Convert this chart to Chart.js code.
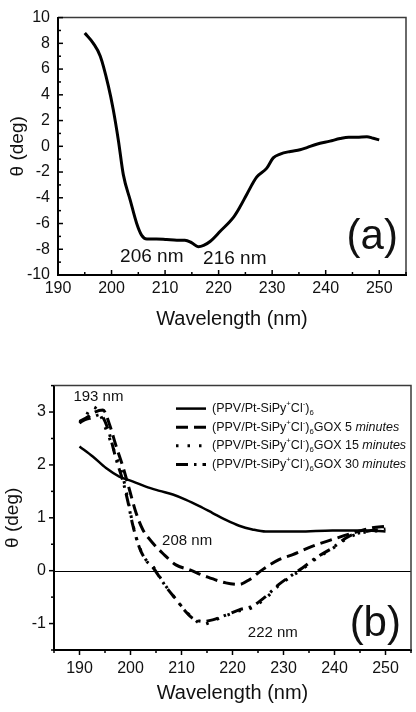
<!DOCTYPE html>
<html>
<head>
<meta charset="utf-8">
<script src="https://cdn.jsdelivr.net/npm/chart.js@4"></script>
<style>
  html, body { margin: 0; padding: 0; background: #fff; }
  #wrapA { position: absolute; left: 0; top: 0;     width: 416px; height: 340px; }
  #wrapB { position: absolute; left: 0; top: 368px; width: 416px; height: 344px; }
</style>
</head>
<body>
<div id="wrapA"><canvas id="chartA"></canvas></div>
<div id="wrapB"><canvas id="chartB"></canvas></div>
<script>
// ── Panel (a) data ──────────────────────────────────────
const wlA    = [195, 196.6, 197.9, 199.4, 200.3, 201.3, 202.2, 203.5, 204.7, 205.6, 206.6, 208.4, 210.3, 212.2, 213.7, 215, 216.2, 217.2, 218.4, 220.3, 222.8, 224, 225.3, 227.1, 229, 230.2, 231.5, 233.4, 235.2, 236.5, 238.3, 240.8, 242.7, 244.3, 245.8, 247.7, 248.9, 250];
const thetaA = [8.8, 8.0, 7.0, 4.7, 2.9, 0.4, -2.2, -4.2, -6.0, -6.9, -7.2, -7.2, -7.25, -7.3, -7.3, -7.5, -7.8, -7.7, -7.4, -6.6, -5.5, -4.7, -3.7, -2.4, -1.7, -0.9, -0.6, -0.4, -0.27, -0.1, 0.16, 0.4, 0.6, 0.7, 0.7, 0.75, 0.62, 0.5];
const xTicksA = [190, 200, 210, 220, 230, 240, 250];
const yTicksA = [-10, -8, -6, -4, -2, 0, 2, 4, 6, 8, 10];

// ── Panel (b) data ──────────────────────────────────────
const wlFilm    = [190, 192.6, 195.2, 197.8, 200.4, 203, 205.7, 208.3, 210.9, 213.5, 216.1, 218.7, 221.3, 223.9, 226.5, 229.1, 233, 239.6, 246.1, 250];
const thetaFilm = [2.35, 2.16, 1.94, 1.78, 1.69, 1.59, 1.51, 1.44, 1.34, 1.22, 1.09, 0.96, 0.85, 0.78, 0.74, 0.74, 0.74, 0.76, 0.76, 0.74];

const wl5    = [190, 191.5, 193, 194.6, 195.8, 197.2, 198.5, 199.8, 201.1, 202.4, 204.4, 206.3, 208.9, 211.5, 214.8, 218.7, 221.3, 223.3, 225.9, 229.1, 231.7, 235.6, 239.6, 243.5, 247.4, 250];
const theta5 = [2.82, 2.9, 3.0, 3.04, 2.79, 2.35, 1.97, 1.53, 1.09, 0.78, 0.52, 0.33, 0.11, 0.02, -0.11, -0.23, -0.26, -0.17, 0.02, 0.21, 0.30, 0.46, 0.59, 0.71, 0.81, 0.84];

const wl15    = [190, 191, 192.6, 193.9, 195.2, 197.2, 198.5, 199.5, 200.4, 201.7, 203, 204.4, 205.7, 207, 209, 210.6, 212.2, 214.2, 216.1, 218.7, 221.3, 223.9, 226.5, 229.1, 231.7, 233.7, 236.3, 239.6, 242.8, 246.1, 250];
const theta15 = [2.79, 2.89, 3.1, 2.98, 2.67, 2.16, 1.78, 1.34, 0.9, 0.46, 0.21, 0.08, -0.11, -0.30, -0.55, -0.74, -0.89, -1.02, -0.95, -0.85, -0.76, -0.7, -0.52, -0.28, -0.1, 0.03, 0.22, 0.42, 0.63, 0.73, 0.76];

const wl30    = [190, 191, 192.6, 194, 195.5, 197.2, 198.5, 199.5, 200.4, 201.7, 203, 204.4, 205.7, 207, 209, 210.6, 212.2, 214.2, 216.1, 218.7, 221.3, 223.9, 226.5, 229.1, 231.7, 233.7, 236.3, 239.6, 242.8, 246.1, 250];
const theta30 = [2.8, 2.85, 2.9, 2.95, 2.7, 2.1, 1.7, 1.3, 0.88, 0.45, 0.2, 0.06, -0.12, -0.31, -0.55, -0.75, -0.9, -0.96, -0.93, -0.84, -0.74, -0.67, -0.49, -0.26, -0.08, 0.05, 0.24, 0.43, 0.65, 0.74, 0.79];

const xTicksB = [190, 200, 210, 220, 230, 240, 250];
const yTicksB = [-1, 0, 1, 2, 3];
const timeLabels = ["", "5", "15", "30"];

const FONT = "'Liberation Sans', Arial, sans-serif";

function pts(xs, ys) {
  return xs.map((x, i) => ({ x: x, y: ys[i] }));
}

// ── Helper: text with super/subscripts and italics ──────
function drawRich(ctx, x, y, parts, size) {
  let cx = x;
  parts.forEach(([txt, kind]) => {
    let fs = size, dy = 0, style = "";
    if (kind === "s") { fs = size * 0.62; dy = -size * 0.38; }
    if (kind === "b") { fs = size * 0.62; dy = size * 0.35; }
    if (kind === "i") { style = "italic "; }
    ctx.font = style + fs + "px " + FONT;
    ctx.fillText(txt, cx, y + dy);
    cx += ctx.measureText(txt).width;
  });
}

function legendParts(t) {
  const parts = [["(PPV/Pt-SiPy", "n"], ["+", "s"], ["Cl", "n"], ["-", "s"], [")", "n"], ["6", "b"]];
  if (t) { parts.push(["GOX " + t + " ", "n"]); parts.push(["minutes", "i"]); }
  return parts;
}

// ── Plugin: frame, ticks, notes, legend ─────────────────
const framePlugin = {
  id: "frame",
  beforeDatasetsDraw(chart, args, opts) {
    if (!opts.zeroLine) return;
    const { ctx, chartArea: a, scales } = chart;
    const y0 = Math.round(scales.y.getPixelForValue(0)) + 0.5;
    ctx.save();
    ctx.strokeStyle = "#000";
    ctx.lineWidth = 1;
    ctx.beginPath();
    ctx.moveTo(a.left, y0);
    ctx.lineTo(a.right, y0);
    ctx.stroke();
    ctx.restore();
  },
  afterDraw(chart, args, opts) {
    const { ctx, chartArea: a, scales } = chart;
    ctx.save();

    // top + right edge of the box
    ctx.strokeStyle = "#3a3a3a";
    ctx.lineWidth = 1.5;
    ctx.beginPath();
    ctx.moveTo(a.left, a.top);
    ctx.lineTo(a.right, a.top);
    ctx.lineTo(a.right, a.bottom);
    ctx.stroke();

    // major + minor ticks
    const dir = opts.inward ? -1 : 1;
    ctx.strokeStyle = "#000";
    ctx.lineWidth = 1.5;
    const xs = scales.x, ys = scales.y;
    const tick = (len, fn) => { ctx.beginPath(); fn(len); ctx.stroke(); };
    for (let v = opts.xMin; v <= xs.max + 1e-9; v += opts.xMinor) {
      const major = Math.abs(v / opts.xMajor - Math.round(v / opts.xMajor)) < 1e-6;
      const len = major ? 5 : 3;
      const px = xs.getPixelForValue(v);
      tick(len, l => { ctx.moveTo(px, a.bottom); ctx.lineTo(px, a.bottom + dir * l); });
    }
    for (let v = opts.yMin; v <= ys.max + 1e-9; v += opts.yMinor) {
      const major = Math.abs(v / opts.yMajor - Math.round(v / opts.yMajor)) < 1e-6;
      const len = major ? 5 : 3;
      const py = ys.getPixelForValue(v);
      tick(len, l => { ctx.moveTo(a.left, py); ctx.lineTo(a.left - dir * l, py); });
    }

    // text notes placed in data units
    ctx.fillStyle = "#111";
    ctx.textBaseline = "middle";
    (opts.notes || []).forEach(n => {
      ctx.font = n.size + "px " + FONT;
      ctx.textAlign = n.align || "left";
      ctx.fillText(n.text, xs.getPixelForValue(n.x), ys.getPixelForValue(n.y));
    });

    // legend
    if (opts.legend) {
      const lx = a.left + 122, ly = a.top + 23, gap = 18.6;
      ctx.textAlign = "left";
      chart.data.datasets.forEach((ds, i) => {
        const y = ly + i * gap;
        ctx.strokeStyle = "#000";
        ctx.lineWidth = ds.borderWidth;
        ctx.setLineDash(ds.borderDash || []);
        ctx.beginPath();
        ctx.moveTo(lx, y);
        ctx.lineTo(lx + 30, y);
        ctx.stroke();
        ctx.setLineDash([]);
        ctx.fillStyle = "#111";
        drawRich(ctx, lx + 36, y, legendParts(timeLabels[i]), 12.5);
      });
    }
    ctx.restore();
  }
};

function axisX(min, max, ticks, height, pad, titlePad, tickSize, titleSize) {
  return {
    type: "linear", min: min, max: max,
    afterBuildTicks: s => { s.ticks = ticks.map(v => ({ value: v })); },
    afterFit: s => { s.height = height; },
    grid: { display: false, drawTicks: false },
    border: { display: true, color: "#000", width: 2 },
    ticks: { padding: pad, color: "#111", autoSkip: false, maxRotation: 0,
             font: { family: FONT, size: tickSize }, callback: v => String(v) },
    title: { display: true, text: "Wavelength (nm)", color: "#111",
             font: { family: FONT, size: titleSize }, padding: { top: 0, bottom: titlePad } }
  };
}

function axisY(min, max, ticks, width, pad, titlePad, tickSize) {
  return {
    min: min, max: max,
    afterBuildTicks: s => { s.ticks = ticks.map(v => ({ value: v })); },
    afterFit: s => { s.width = width; },
    grid: { display: false, drawTicks: false },
    border: { display: true, color: "#000", width: 2 },
    ticks: { padding: pad, color: "#111", autoSkip: false,
             font: { family: FONT, size: tickSize }, callback: v => String(v) },
    title: { display: true, text: "θ (deg)", color: "#111",
             font: { family: FONT, size: 19 }, padding: { top: titlePad, bottom: 0 } }
  };
}

// ── Chart (a) ───────────────────────────────────────────
new Chart(document.getElementById("chartA"), {
  type: "line",
  data: {
    datasets: [{
      label: "θ",
      data: pts(wlA, thetaA),
      borderColor: "#000",
      borderWidth: 3,
      pointRadius: 0,
      cubicInterpolationMode: "monotone",
      fill: false
    }]
  },
  options: {
    responsive: true,
    maintainAspectRatio: false,
    animation: false,
    layout: { padding: { top: 14, right: 10, left: 0, bottom: 0 } },
    scales: {
      x: axisX(190, 255, xTicksA, 65, 4, 9, 16, 20),
      y: axisY(-10, 10, yTicksA, 58, 8, 6, 16)
    },
    plugins: {
      legend: { display: false },
      tooltip: { enabled: false },
      frame: {
        inward: true,
        xMin: 190, xMajor: 10, xMinor: 5,
        yMin: -10, yMajor: 2, yMinor: 1,
        notes: [
          { text: "206 nm", x: 201.6, y: -8.6, size: 19 },
          { text: "216 nm", x: 217.1, y: -8.75, size: 19 },
          { text: "(a)", x: 248.7, y: -7.1, size: 42, align: "center" }
        ]
      }
    }
  },
  plugins: [framePlugin]
});

// ── Chart (b) ───────────────────────────────────────────
const lineStyle = (data, dash, width) => ({
  data: data,
  borderColor: "#000",
  borderWidth: width,
  borderDash: dash,
  pointRadius: 0,
  cubicInterpolationMode: "monotone",
  fill: false
});

new Chart(document.getElementById("chartB"), {
  type: "line",
  data: {
    datasets: [
      Object.assign({ label: "(PPV/Pt-SiPy⁺Cl⁻)₆" }, lineStyle(pts(wlFilm, thetaFilm), [], 2.5)),
      Object.assign({ label: "(PPV/Pt-SiPy⁺Cl⁻)₆GOX 5 minutes" }, lineStyle(pts(wl5, theta5), [12, 6], 3)),
      Object.assign({ label: "(PPV/Pt-SiPy⁺Cl⁻)₆GOX 15 minutes" }, lineStyle(pts(wl15, theta15), [2.5, 9], 3)),
      Object.assign({ label: "(PPV/Pt-SiPy⁺Cl⁻)₆GOX 30 minutes" }, lineStyle(pts(wl30, theta30), [12, 6, 2.5, 6], 3))
    ]
  },
  options: {
    responsive: true,
    maintainAspectRatio: false,
    animation: false,
    layout: { padding: { top: 17, right: 5, left: 0, bottom: 0 } },
    scales: {
      x: axisX(185, 255, xTicksB, 62, 9, 7, 16, 20),
      y: axisY(-1.5, 3.5, yTicksB, 54, 8, 1, 16)
    },
    plugins: {
      legend: { display: false },
      tooltip: { enabled: false },
      frame: {
        inward: false,
        zeroLine: true,
        legend: true,
        xMin: 185, xMajor: 10, xMinor: 5,
        yMin: -1.5, yMajor: 1, yMinor: 0.5,
        notes: [
          { text: "193 nm", x: 188.8, y: 3.29, size: 15 },
          { text: "208 nm", x: 206.2, y: 0.57, size: 15 },
          { text: "222 nm", x: 223.0, y: -1.17, size: 15 },
          { text: "(b)", x: 248.0, y: -1.02, size: 42, align: "center" }
        ]
      }
    }
  },
  plugins: [framePlugin]
});
</script>
</body>
</html>
